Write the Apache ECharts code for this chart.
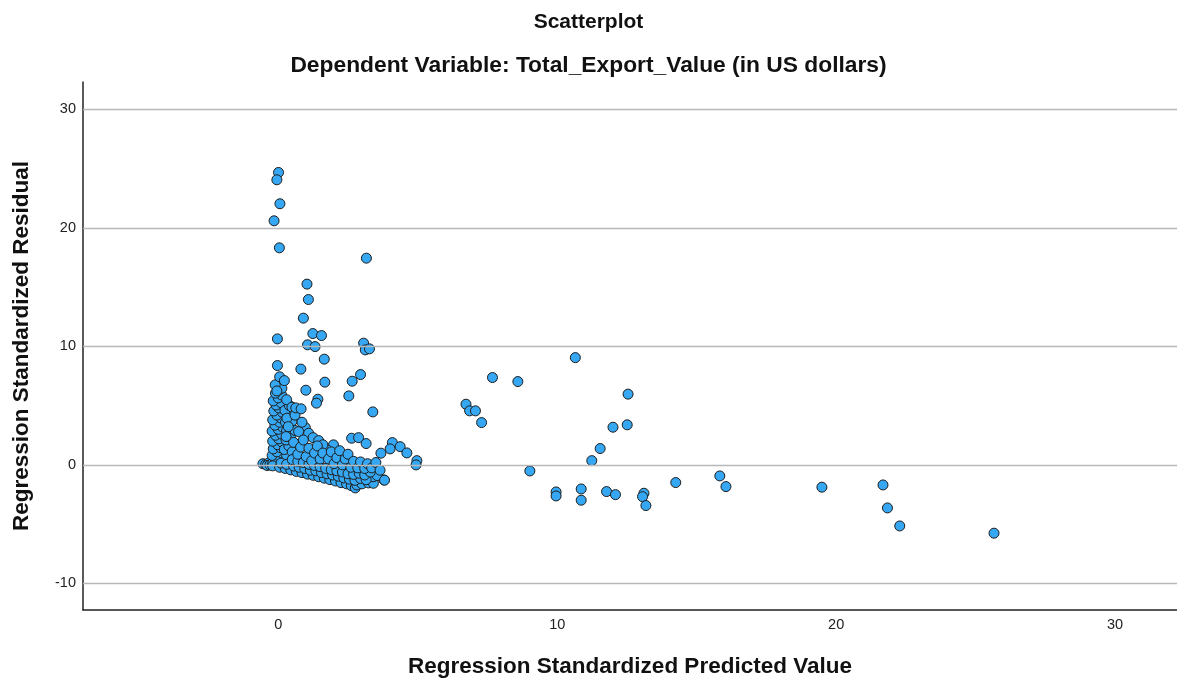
<!DOCTYPE html>
<html>
<head>
<meta charset="utf-8">
<title>Scatterplot</title>
<script src="https://cdn.jsdelivr.net/npm/echarts@6/dist/echarts.min.js"></script>
<style>
  html, body { margin: 0; padding: 0; background: #ffffff; }
  #chart { width: 1177px; height: 686px; }
</style>
</head>
<body>
<div id="chart"></div>
<script>
// Axis tick values
const xTicks = [0, 10, 20, 30];
const yTicks = [-10, 0, 10, 20, 30];

// Dense group of cases with small predicted values: [predicted, residual]
const clusterPoints = [
  [-0.55, 0.1], [-0.45, 0.05], [-0.35, 0.15], [-0.4, -0.05], [-0.3, 0.0],
  [-0.2, 0.15], [0.0, 0.1], [0.12, 0.3], [-0.1, 0.45], [0.05, 0.7], [-0.22, 0.8],
  [0.15, 1.0], [-0.05, 1.1], [-0.18, 1.35], [0.08, 1.45], [-0.02, 1.7], [0.14, 1.9],
  [-0.2, 2.0], [0.02, 2.2], [-0.1, 2.5], [0.12, 2.6], [-0.22, 2.85], [0.0, 3.0],
  [0.15, 3.2], [-0.12, 3.35], [0.05, 3.6], [-0.2, 3.8], [0.1, 3.95], [-0.05, 4.2],
  [0.14, 4.45], [-0.16, 4.55], [0.02, 4.8], [-0.08, 5.05], [0.1, 5.25], [-0.18, 5.4],
  [0.0, 5.65], [0.12, 5.9], [-0.1, 6.05], [0.04, 6.35], [-0.04, 6.6],
  [0.25, 0.2], [0.3, 0.8], [0.22, 1.3], [0.38, 1.6], [0.28, 2.1], [0.45, 2.4],
  [0.3, 2.9], [0.42, 3.3], [0.26, 3.6], [0.36, 4.2], [0.24, 4.6], [0.4, 5.0],
  [0.3, 5.5], [0.5, 1.1], [0.55, 1.9], [0.6, 2.9], [0.5, 3.7], [0.62, 0.6], [0.45, 0.0],
  [0.31, 3.94], [0.36, 3.23], [0.28, 2.39], [0.97, 3.15], [1.09, 2.67], [0.73, 2.81],
  [1.98, 1.69], [1.75, 1.27], [0.49, 4.87], [0.13, 6.47], [-0.11, 6.75], [-0.05, 6.24],
  [0.85, 3.6], [1.25, 2.3], [1.45, 2.05], [1.6, 1.7], [0.6, 4.2],
  [-0.2, -0.08], [0.05, -0.2], [0.25, -0.3], [0.45, -0.42], [0.65, -0.55], [0.85, -0.65],
  [1.05, -0.78], [1.25, -0.88], [1.45, -1.0], [1.65, -1.12], [1.85, -1.24], [2.05, -1.36],
  [2.25, -1.5], [2.45, -1.6], [2.62, -1.75], [2.76, -1.94], [2.82, -1.69], [3.0, -1.6],
  [3.23, -1.52], [3.41, -1.55], [3.79, -1.27], [3.4, -1.0],
  [0.1, 0.15], [0.3, 0.05], [0.55, -0.1], [0.75, -0.2], [0.95, -0.3], [1.15, -0.45],
  [1.35, -0.5], [1.55, -0.65], [1.75, -0.75], [1.95, -0.85], [2.15, -0.95], [2.35, -1.1],
  [2.55, -1.2], [2.75, -1.3], [2.95, -1.15], [3.15, -1.25], [3.55, -0.9],
  [0.5, 0.45], [0.7, 0.3], [0.9, 0.2], [1.1, 0.05], [1.3, -0.05], [1.5, -0.15],
  [1.7, -0.3], [1.9, -0.4], [2.1, -0.5], [2.3, -0.6], [2.5, -0.75], [2.7, -0.8],
  [2.9, -0.7], [3.1, -0.85], [3.3, -0.6],
  [0.7, 0.9], [0.8, 1.5], [0.9, 2.1], [1.0, 0.7], [1.1, 1.4], [1.2, 0.35], [1.3, 1.0],
  [1.4, 1.6], [1.5, 0.5], [1.6, 1.0], [1.8, 0.5], [1.9, 1.1], [2.0, 0.1], [2.1, 0.6],
  [2.2, 1.2], [2.3, 0.0], [2.4, 0.5], [2.5, 0.9], [2.6, -0.2], [2.7, 0.3], [2.85, -0.25],
  [2.95, 0.25], [3.1, -0.3], [3.2, 0.1], [3.35, -0.25], [3.5, 0.2], [3.65, -0.45]
];

// Large positive residuals and cases at the edge of the dense group
const upperPoints = [
  [0.01, 24.67], [-0.05, 24.05], [0.06, 22.03], [-0.15, 20.59], [0.04, 18.31],
  [3.16, 17.44], [1.03, 15.25], [1.08, 13.95], [0.9, 12.38], [1.24, 11.08],
  [1.55, 10.91], [-0.03, 10.63], [1.05, 10.13], [1.32, 9.98], [3.06, 10.27],
  [3.12, 9.7], [3.27, 9.79], [1.65, 8.92], [-0.03, 8.38], [0.81, 8.08],
  [0.05, 7.43], [0.22, 7.11], [1.67, 6.98], [2.95, 7.62], [2.65, 7.06],
  [0.99, 6.3], [2.53, 5.82], [1.42, 5.54], [1.37, 5.21], [3.39, 4.47],
  [0.63, 4.81], [0.82, 4.73], [2.63, 2.25], [2.88, 2.3], [3.15, 1.8],
  [4.09, 1.88], [4.01, 1.35], [4.37, 1.54], [3.68, 0.99], [4.61, 1.01],
  [4.97, 0.36], [4.94, 0.0], [3.81, -1.29]
];

// Cases with large predicted values
const farPoints = [
  [7.68, 7.37], [8.59, 7.03], [10.65, 9.05], [6.73, 5.12], [6.86, 4.56],
  [7.07, 4.56], [7.29, 3.57], [12.54, 5.97], [12.0, 3.18], [12.51, 3.38],
  [11.54, 1.38], [11.24, 0.36], [9.02, -0.51], [9.96, -2.28], [9.96, -2.62],
  [10.86, -2.03], [10.86, -2.98], [11.77, -2.25], [12.09, -2.51], [13.11, -2.39],
  [13.06, -2.68], [13.18, -3.43], [14.25, -1.49], [15.83, -0.93], [16.05, -1.83],
  [19.49, -1.88], [21.68, -1.69], [21.84, -3.63], [22.28, -5.15], [25.66, -5.76]
];

const allPoints = clusterPoints.concat(upperPoints, farPoints);

const FONT = "'Liberation Sans', Arial, sans-serif";

const chart = echarts.init(document.getElementById('chart'), null, { renderer: 'canvas' });

chart.setOption({
  backgroundColor: '#ffffff',
  animation: false,
  title: [
    {
      text: 'Scatterplot',
      left: 'center',
      top: 7,
      textStyle: { fontFamily: FONT, fontSize: 21, fontWeight: 'bold', color: '#111' }
    },
    {
      text: 'Dependent Variable: Total_Export_Value (in US dollars)',
      left: 'center',
      top: 49,
      textStyle: { fontFamily: FONT, fontSize: 22.8, fontWeight: 'bold', color: '#111' }
    }
  ],
  grid: { left: 83, right: 0, top: 82, bottom: 76, containLabel: false },
  xAxis: {
    type: 'value',
    min: -7,
    max: 32.22,
    name: 'Regression Standardized Predicted Value',
    nameLocation: 'middle',
    nameGap: 45,
    nameTextStyle: { fontFamily: FONT, fontSize: 22.5, fontWeight: 'bold', color: '#111' },
    axisLine: { onZero: false, lineStyle: { color: '#222', width: 1.5 } },
    axisTick: { show: false },
    splitLine: { show: false },
    axisLabel: {
      customValues: xTicks,
      fontFamily: FONT,
      fontSize: 14.5,
      color: '#222',
      margin: 7
    }
  },
  yAxis: {
    type: 'value',
    min: -12.24,
    max: 32.3,
    name: 'Regression Standardized Residual',
    nameLocation: 'middle',
    nameRotate: 90,
    nameGap: 50,
    nameTextStyle: { fontFamily: FONT, fontSize: 22.5, fontWeight: 'bold', color: '#111' },
    axisLine: { onZero: false, lineStyle: { color: '#222', width: 1.5 } },
    axisTick: { show: false },
    splitLine: { show: false },
    axisLabel: {
      customValues: yTicks,
      fontFamily: FONT,
      fontSize: 14.5,
      color: '#222',
      margin: 7
    }
  },
  series: [
    {
      // horizontal reference lines at the y tick values
      type: 'scatter',
      data: [],
      z: 1,
      silent: true,
      markLine: {
        silent: true,
        symbol: 'none',
        label: { show: false },
        lineStyle: { color: '#b8b8b8', width: 1.4, type: 'solid' },
        data: yTicks.map(v => ({ yAxis: v }))
      }
    },
    {
      type: 'scatter',
      z: 3,
      symbol: 'circle',
      symbolSize: 10,
      data: allPoints,
      itemStyle: {
        color: '#36a7f2',
        borderColor: '#1d1d1d',
        borderWidth: 1,
        opacity: 1
      }
    }
  ]
});
</script>
</body>
</html>
